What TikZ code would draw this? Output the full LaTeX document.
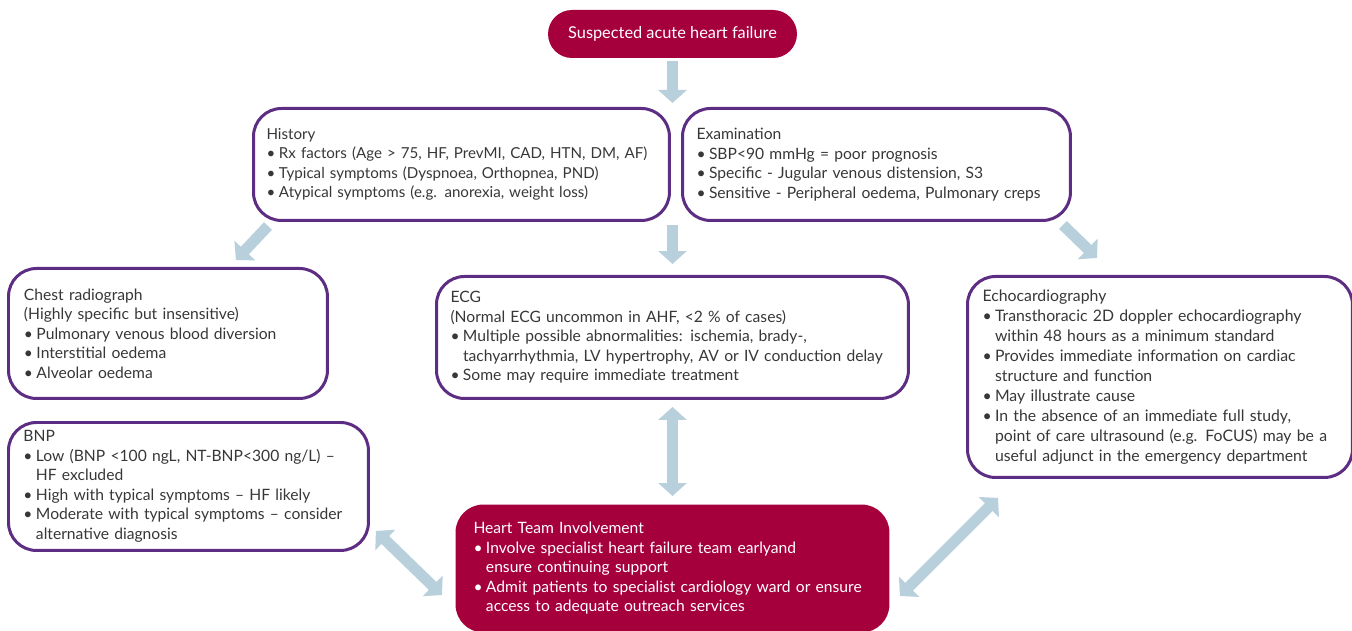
\documentclass[tikz,border=0pt]{standalone}
\usepackage{fontspec}
\setmainfont{Lato}
\usetikzlibrary{arrows.meta}
\definecolor{hfred}{RGB}{166,0,60}
\definecolor{hfpurple}{RGB}{92,45,130}
\definecolor{hfblue}{RGB}{184,208,220}
\definecolor{hftext}{RGB}{55,55,55}
\newcommand{\bl}{\makebox[0.25cm][l]{\textbullet}}
\newcommand{\ind}{\hspace*{0.25cm}}
\tikzset{
  outbox/.style={draw=hfpurple, line width=0.06cm, rounded corners=0.56cm,
    text=hftext, align=left, anchor=north west, inner sep=0pt,
    font=\fontsize{8.9}{11.1}\selectfont},
  redbox/.style={outbox, draw=none, fill=hfred, text=white},
  bigarrow/.style={draw=hfblue, line width=0.22cm,
    -{Triangle[width=0.56cm,length=0.26cm]}},
  dblarrow/.style={bigarrow,
    {Triangle[width=0.56cm,length=0.26cm]}-{Triangle[width=0.56cm,length=0.26cm]}}
}
\begin{document}
\begin{tikzpicture}[x=0.02cm,y=-0.02cm]
  \useasboundingbox (0,0) rectangle (1352,631);
  % boxes
  \node[redbox, anchor=center, rounded corners=0.48cm, minimum width=4.98cm,
    minimum height=0.96cm, font=\fontsize{9.3}{11}\selectfont]
    (top) at (672.5,34) {Suspected acute heart failure};
  \node[outbox, minimum width=8.32cm, minimum height=2.24cm, text width=7.8cm,
    font=\fontsize{8.6}{11.1}\selectfont]
    (hist) at (252,107) {History\\
    \bl Rx factors (Age > 75, HF, PrevMI, CAD, HTN, DM, AF)\\
    \bl Typical symptoms (Dyspnoea, Orthopnea, PND)\\
    \bl Atypical symptoms (e.g. anorexia, weight loss)};
  \node[outbox, minimum width=7.76cm, minimum height=2.24cm, text width=7.2cm]
    (exam) at (681,107) {Examination\\
    \bl SBP<90 mmHg = poor prognosis\\
    \bl Specific - Jugular venous distension, S3\\
    \bl Sensitive - Peripheral oedema, Pulmonary creps};
  \node[outbox, minimum width=6.38cm, minimum height=2.6cm, text width=5.76cm]
    (chest) at (7,267) {Chest radiograph\\
    (Highly specific but insensitive)\\
    \bl Pulmonary venous blood diversion\\
    \bl Interstitial oedema\\
    \bl Alveolar oedema};
  \node[outbox, minimum width=9.44cm, minimum height=2.44cm, text width=8.88cm]
    (ecg) at (435,275) {ECG\\
    (Normal ECG uncommon in AHF, <2 \% of cases)\\
    \bl Multiple possible abnormalities: ischemia, brady-,\\
    \ind tachyarrhythmia, LV hypertrophy, AV or IV conduction delay\\
    \bl Some may require immediate treatment};
  \node[outbox, minimum width=7.7cm, minimum height=4.02cm, text width=7.1cm,
    font=\fontsize{9}{11.4}\selectfont]
    (echo) at (966,275) {Echocardiography\\
    \bl Transthoracic 2D doppler echocardiography\\
    \ind within 48 hours as a minimum standard\\
    \bl Provides immediate information on cardiac\\
    \ind structure and function\\
    \bl May illustrate cause\\
    \bl In the absence of an immediate full study,\\
    \ind point of care ultrasound (e.g. FoCUS) may be a\\
    \ind useful adjunct in the emergency department};
  \node[outbox, minimum width=7.2cm, minimum height=2.56cm, text width=6.6cm]
    (bnp) at (7,421) {BNP\\
    \bl Low (BNP <100 ngL, NT-BNP<300 ng/L) --\\
    \ind HF excluded\\
    \bl High with typical symptoms -- HF likely\\
    \bl Moderate with typical symptoms -- consider\\
    \ind alternative diagnosis};
  \node[redbox, minimum width=8.68cm, minimum height=2.56cm, text width=7.96cm]
    (heart) at (454,503) {Heart Team Involvement\\
    \bl Involve specialist heart failure team earlyand\\
    \ind ensure continuing support\\
    \bl Admit patients to specialist cardiology ward or ensure\\
    \ind access to adequate outreach services};
  % arrows
  \draw[bigarrow, shorten <=0.04cm, shorten >=0.08cm] (top.south) -- (top.south |- hist.north);
  \draw[bigarrow] ([shift={(16,4)}]hist.south west) -- ([shift={(-93,-7)}]chest.north east);
  \draw[bigarrow, shorten <=0.06cm, shorten >=0.22cm] (top.south |- hist.south) -- (top.south |- ecg.north);
  \draw[bigarrow] ([shift={(-9,3)}]exam.south east) -- ([shift={(131,-17)}]echo.north west);
  \draw[dblarrow, shorten <=0.14cm, shorten >=0.14cm] (top.south |- ecg.south) -- (top.south |- heart.north);
  \draw[dblarrow] ([shift={(6,-21)}]bnp.south east) -- ([shift={(-12,-39)}]heart.south west);
  \draw[dblarrow] ([shift={(9,-38)}]heart.south east) -- ([shift={(32,19)}]echo.south west);
\end{tikzpicture}
\end{document}
